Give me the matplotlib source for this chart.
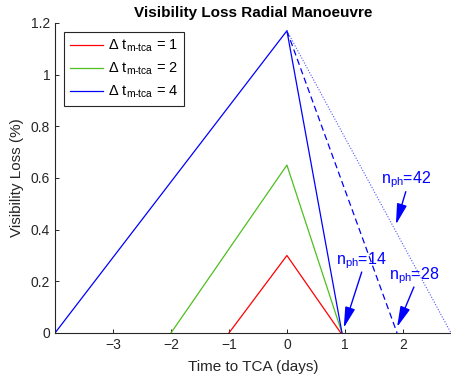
import matplotlib
matplotlib.use("Agg")
import matplotlib.pyplot as plt

plt.rcParams['font.family'] = ['Liberation Sans', 'DejaVu Sans']
plt.rcParams['mathtext.fontset'] = 'custom'
plt.rcParams['mathtext.rm'] = 'Liberation Sans'
plt.rcParams['mathtext.it'] = 'Liberation Sans:italic'

# Data: vertices (time to TCA in days, visibility loss in %)
red_t = [-1.0, 0.0, 0.93]
red_v = [0.0, 0.30, 0.0]
green_t = [-2.0, 0.0, 0.95]
green_v = [0.0, 0.65, 0.0]
blue_t = [-4.0, 0.0, 0.95]
blue_v = [0.0, 1.17, 0.0]
blue28_t = [0.0, 1.90]
blue28_v = [1.17, 0.0]
blue42_t = [0.0, 2.83]
blue42_v = [1.17, 0.0]

legend_labels = [r'$\Delta$ t$_{\mathrm{m\text{-}tca}}$ = 1',
                 r'$\Delta$ t$_{\mathrm{m\text{-}tca}}$ = 2',
                 r'$\Delta$ t$_{\mathrm{m\text{-}tca}}$ = 4']

ann_labels = [r'n$_{\mathrm{ph}}$=14', r'n$_{\mathrm{ph}}$=28', r'n$_{\mathrm{ph}}$=42']
ann_tips = [(0.98, 0.02), (1.90, 0.023), (1.88, 0.42)]
ann_tails = [(1.29, 0.236), (2.19, 0.178), (2.05, 0.547)]

xticks = [-3, -2, -1, 0, 1, 2]
yticks = [0, 0.2, 0.4, 0.6, 0.8, 1.0, 1.2]
yticklabels = ['0', '0.2', '0.4', '0.6', '0.8', '1', '1.2']

fig = plt.figure(figsize=(4.52, 3.87), dpi=100)
ax = fig.add_axes([55/452, (387-333)/387, (451-55)/452, (333-23)/387])

gray = '#262626'
red = '#ff0000'
green = '#4fbf1f'
blue = '#0000ff'

l1, = ax.plot(red_t, red_v, color=red, lw=0.9)
l2, = ax.plot(green_t, green_v, color=green, lw=0.9)
l3, = ax.plot(blue_t, blue_v, color=blue, lw=0.9)
ax.plot(blue28_t, blue28_v, color=blue, lw=0.9, ls=(0, (5, 3)))
ax.plot(blue42_t, blue42_v, color='#5555ff', lw=0.8, ls=(0, (1, 1.5)))

for lab, tip, tail in zip(ann_labels, ann_tips, ann_tails):
    ax.annotate('', xy=tip, xytext=tail,
                arrowprops=dict(arrowstyle='-|>,head_length=0.9,head_width=0.22',
                                color=blue, lw=1.0,
                                mutation_scale=14, shrinkA=0, shrinkB=0))
    ax.text(tail[0], tail[1] + 0.005, lab, color=blue, fontsize=11.5,
            ha='center', va='bottom')

ax.set_xlim(-4, 2.83)
ax.set_ylim(0, 1.2)
ax.set_xticks(xticks)
ax.set_yticks(yticks)
ax.set_yticklabels(yticklabels)
ax.tick_params(direction='in', length=3, width=0.7, colors=gray, labelsize=10)
for s in ['top', 'right']:
    ax.spines[s].set_visible(False)
for s in ['left', 'bottom']:
    ax.spines[s].set_color(gray)
    ax.spines[s].set_linewidth(0.8)

ax.set_xlabel('Time to TCA (days)', fontsize=11, color=gray, labelpad=6)
ax.set_ylabel('Visibility Loss (%)', fontsize=11, color=gray, labelpad=5)
ax.set_title('Visibility Loss Radial Manoeuvre', fontsize=11, fontweight='bold',
             color='black', pad=4)

leg = ax.legend([l1, l2, l3], legend_labels, loc='upper left',
                bbox_to_anchor=(0.023, 0.971), borderaxespad=0,
                fontsize=10.5, fancybox=False,
                edgecolor=gray, framealpha=1, handlelength=2.3,
                handletextpad=0.3, borderpad=0.4, labelspacing=0.45)
leg.get_frame().set_linewidth(0.8)

fig.savefig('out.png', dpi=100)
